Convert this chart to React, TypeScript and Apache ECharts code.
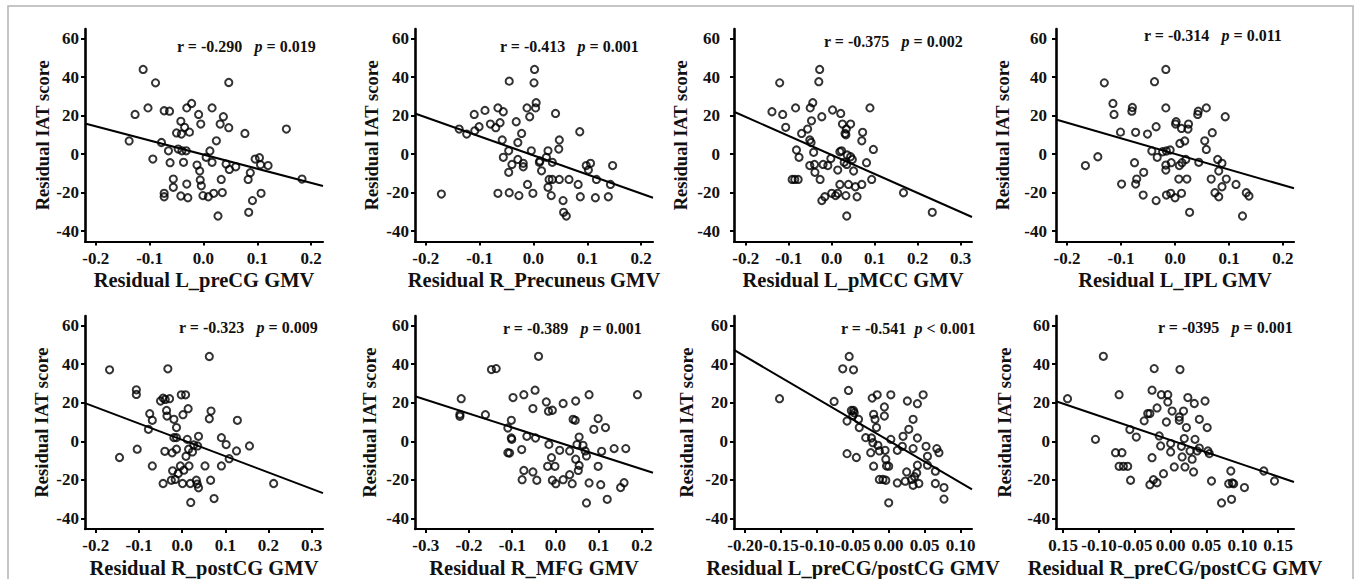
import React, { useEffect, useRef } from "react";
import * as echarts from "echarts";

// ---------- data ----------
const xTitles = [
  "Residual L_preCG GMV",
  "Residual R_Precuneus GMV",
  "Residual L_pMCC GMV",
  "Residual L_IPL GMV",
  "Residual R_postCG GMV",
  "Residual R_MFG GMV",
  "Residual L_preCG/postCG GMV",
  "Residual R_preCG/postCG GMV",
];
const yTitle = "Residual IAT score";

const statR = ["-0.290", "-0.413", "-0.375", "-0.314", "-0.323", "-0.389", "-0.541", "-0395"];
const statP = ["= 0.019", "= 0.001", "= 0.002", "= 0.011", "= 0.009", "= 0.001", "< 0.001", "= 0.001"];
const statGap = ["   ", "   ", "   ", "   ", "   ", "   ", "  ", "   "];

const yTicks = [-40, -20, 0, 20, 40, 60];

const ticksA = [-0.2, -0.1, 0, 0.1, 0.2];
const labelsA = ["-0.2", "-0.1", "0.0", "0.1", "0.2"];
const ticksB = [-0.2, -0.1, 0, 0.1, 0.2, 0.3];
const labelsB = ["-0.2", "-0.1", "0.0", "0.1", "0.2", "0.3"];
const ticksC = [-0.3, -0.2, -0.1, 0, 0.1, 0.2];
const labelsC = ["-0.3", "-0.2", "-0.1", "0.0", "0.1", "0.2"];
const ticksD = [-0.2, -0.15, -0.1, -0.05, 0, 0.05, 0.1];
const labelsD = ["-0.20", "-0.15", "-0.10", "-0.05", "0.00", "0.05", "0.10"];
const ticksE = [-0.15, -0.1, -0.05, 0, 0.05, 0.1, 0.15];
const labelsE = ["0.15", "-0.10", "-0.05", "0.00", "0.05", "0.10", "0.15"];

const xRanges = [
  [-0.22, 0.222],
  [-0.22, 0.222],
  [-0.2273, 0.3264],
  [-0.2205, 0.2204],
  [-0.2249, 0.3263],
  [-0.325, 0.226],
  [-0.2154, 0.116],
  [-0.1601, 0.1722],
];

const pts1 = [
  [-0.112, 44], [-0.089, 37], [-0.103, 24], [-0.127, 20.6], [-0.138, 6.8], [-0.094, -2.6], [-0.078, 6],
  [-0.073, 22.5], [-0.063, 22.3], [-0.065, 1.7], [-0.062, -4.5], [-0.056, -13], [-0.056, -17.3],
  [-0.073, -20.4], [-0.073, -22.2], [-0.05, 11], [-0.042, 17], [-0.041, 10.4], [-0.035, 13.9],
  [-0.031, 24], [-0.022, 26.3], [-0.026, 11.4], [-0.047, 2.6], [-0.04, 1.7], [-0.032, 1.7],
  [-0.037, -4.3], [-0.031, -15.6], [-0.042, -21.8], [-0.029, -22.7], [-0.009, 20.6], [-0.005, 15.6],
  [-0.012, -5.7], [-0.007, -8.8], [-0.006, -13.5], [-0.004, -16.5], [-0.001, -21.6], [0.009, -22.2],
  [0.005, -1.7], [0.012, 1.6], [0.016, -4.3], [0.016, 24], [0.037, 19.4], [0.031, 15.6], [0.024, 6.9],
  [0.042, -5.2], [0.048, -8], [0.06, -6.6], [0.033, -13.2], [0.035, -20], [0.019, -20.4], [0.027, -32.2],
  [0.047, 37.2], [0.047, 13.7], [0.077, 10.7], [0.087, -9.7], [0.083, -13.2], [0.091, -24.2],
  [0.084, -30.3], [0.096, -2.6], [0.104, -1.9], [0.106, -5.5], [0.107, -20.4], [0.12, -6], [0.154, 13],
  [0.183, -13],
];
const pts2 = [
  [-0.171, -20.8], [-0.138, 13], [-0.124, 10.4], [-0.11, 20.6], [-0.109, 12.1], [-0.101, 14.2],
  [-0.09, 22.7], [-0.08, 15.6], [-0.07, 13.7], [-0.066, 24], [-0.062, 16.3], [-0.056, 22], [-0.058, 7.3],
  [-0.056, -1.7], [-0.046, 1.7], [-0.045, 37.9], [-0.04, -5.4], [-0.046, -9.5], [-0.066, -20.4],
  [-0.045, -20.1], [-0.027, -21.6], [-0.032, 16.8], [-0.022, 10.7], [-0.029, 6], [-0.029, -2.8],
  [-0.019, -4.8], [-0.019, -6.6], [-0.012, 24], [-0.007, 19.4], [-0.011, -15.8], [-0.001, -20.4],
  [-0.004, 1.7], [0.002, 44], [0.001, 37], [0.005, 26.7], [0.004, 24], [0.011, -4.3], [0.015, -8.7],
  [0.012, -3.6], [0.027, 1.7], [0.029, -13.2], [0.027, -17.3], [0.033, -21.6], [0.035, -4.3],
  [0.035, -13.2], [0.041, 21.1], [0.048, 7.3], [0.047, 2.6], [0.048, -13.2], [0.066, -13.2],
  [0.055, -24.2], [0.056, -30.3], [0.061, -32.2], [0.083, -15.8], [0.087, -22.2], [0.086, 11.6],
  [0.098, -6], [0.102, -8.3], [0.106, -4.8], [0.117, -13.2], [0.115, -22.7], [0.139, -22.2],
  [0.143, -15.8], [0.147, -6], [0.024, -1.7],
];
const pts3 = [
  [-0.139, 22], [-0.121, 37], [-0.114, 20.6], [-0.107, 13.9], [-0.084, 24], [-0.07, 10.7], [-0.056, 13],
  [-0.082, 2.1], [-0.076, -1.7], [-0.092, -13.2], [-0.086, -13.2], [-0.078, -13.2], [-0.05, 24],
  [-0.044, 26.7], [-0.047, 17.3], [-0.051, 7.3], [-0.048, 6], [-0.042, 0.9], [-0.051, -6], [-0.04, -5.4],
  [-0.039, -9.5], [-0.027, -13.2], [-0.028, 44], [-0.03, 37.6], [-0.023, 19.4], [-0.02, -5.4],
  [-0.009, -6], [-0.002, -2.3], [-0.023, -24.2], [-0.016, -22.2], [0, -20.4], [0.009, -21.6],
  [0.014, -20.4], [0.002, 22.9], [0.021, 21.1], [0.025, 15.6], [0.031, 10.7], [0.034, 13], [0.033, 10],
  [0.044, 15.6], [0.023, 1.7], [0.019, 1.2], [0.014, -8.3], [0.019, -15.8], [0.029, -4.3], [0.035, -5.4],
  [0.036, -0.5], [0.044, -1.4], [0.048, -2.8], [0.051, -8.8], [0.039, -15.8], [0.055, -17], [0.033, -21.6],
  [0.059, -22.2], [0.035, -32.2], [0.07, -15.8], [0.072, 11.3], [0.07, 6.9], [0.081, -4.5], [0.089, 24],
  [0.097, 2.4], [0.093, -13.2], [0.167, -20.1], [0.234, -30.3],
];
const pts4 = [
  [-0.166, -6], [-0.143, -1.4], [-0.131, 37], [-0.115, 26.3], [-0.113, 20.6], [-0.101, 11.4],
  [-0.099, -15.6], [-0.079, 24.2], [-0.08, 22.3], [-0.073, 11.3], [-0.075, -4.5], [-0.071, -13],
  [-0.073, -15.6], [-0.058, -9.5], [-0.059, -21.3], [-0.051, 10.4], [-0.038, 37.6], [-0.035, 14.2],
  [-0.043, 1.6], [-0.033, -1.7], [-0.035, -24.2], [-0.017, 44], [-0.017, 24], [-0.023, 1.2], [-0.016, 1.6],
  [-0.009, 2.1], [-0.017, -5.7], [-0.017, -8.3], [-0.007, -4.5], [-0.016, -21.3], [-0.008, -20.4],
  [0, -22.7], [0.002, 16.8], [0.001, 15.6], [0.012, 13.3], [0.009, 5.5], [0.018, 6.8], [0.025, 15.6],
  [0.024, 13], [0.008, -6], [0.013, -4.5], [0.007, -13], [0.02, -2.8], [0.022, -13], [0.012, -20.4],
  [0.027, -30.3], [0.043, 22.3], [0.042, 20.6], [0.058, 24], [0.044, -4.3], [0.055, 6.9], [0.058, 2.4],
  [0.069, 11.1], [0.067, -13], [0.074, -20.1], [0.081, -22.2], [0.079, -2.8], [0.081, -8.8], [0.087, -4.8],
  [0.087, -17], [0.095, -13], [0.093, 19.4], [0.113, -15.8], [0.125, -32.2], [0.132, -20.1], [0.137, -21.8],
];
const pts5 = [
  [-0.168, 37.1], [-0.145, -8.4], [-0.106, 26.7], [-0.106, 24.3], [-0.104, -4.1], [-0.075, 14.3],
  [-0.069, 10.9], [-0.078, 6.2], [-0.069, -12.8], [-0.05, 20.9], [-0.044, 22.4], [-0.039, 21.7],
  [-0.029, 22.1], [-0.036, 16], [-0.035, 13.1], [-0.033, 37.6], [-0.04, -5.2], [-0.044, -21.9],
  [-0.019, 11.4], [-0.013, 7.1], [-0.019, 1.9], [-0.013, 1.9], [-0.023, -6], [-0.013, -4.1],
  [-0.022, -15.3], [-0.025, -20.2], [-0.016, -19.8], [-0.009, -16.7], [-0.004, -12.8], [0.004, -15],
  [0.001, -21.9], [-0.002, 24.1], [0.008, 24.1], [0.002, 13.8], [0.014, 16.9], [0.012, 1], [0.009, -7.8],
  [0.015, -4.1], [0.016, -12.8], [0.024, -5.5], [0.019, -21.9], [0.02, -31.7], [0.033, -20.2],
  [0.035, -22.2], [0.038, -24.1], [0.038, 2.6], [0.036, -2.4], [0.053, -12.8], [0.063, 44], [0.067, 15.7],
  [0.063, 11.7], [0.066, -20.2], [0.074, -29.7], [0.091, 1.9], [0.102, -1.7], [0.091, -12.8], [0.109, -9],
  [0.128, 10.9], [0.126, -5], [0.156, -2.4], [0.212, -21.9], [0.027, -1.9],
];
const pts6 = [
  [-0.218, 22.1], [-0.221, 14], [-0.221, 13], [-0.162, 13.8], [-0.148, 37.2], [-0.137, 37.7],
  [-0.102, 10.9], [-0.11, 6.9], [-0.102, 1.7], [-0.101, 1], [-0.11, -5.9], [-0.106, -6.1], [-0.098, 22.7],
  [-0.078, -4.3], [-0.077, -19.9], [-0.073, -15.1], [-0.073, 24.2], [-0.066, 2.6], [-0.052, 17],
  [-0.052, -15.9], [-0.047, 26.5], [-0.046, 1.7], [-0.043, -20.2], [-0.039, 44.1], [-0.021, 20.4],
  [-0.016, 15.6], [-0.007, 16.1], [-0.015, -1.6], [-0.018, -13], [-0.009, -8.5], [-0.001, -13],
  [-0.007, -20.2], [0.001, -22], [0.01, -4.7], [0.018, 19.6], [0.018, -19.9], [0.033, -17.3], [0.033, -5],
  [0.039, -22], [0.041, 11.4], [0.046, 10.9], [0.047, 20.9], [0.047, -9.3], [0.055, 2.2], [0.05, -1.7],
  [0.055, -12.5], [0.053, -15.1], [0.064, -2.1], [0.069, -5], [0.072, -7.6], [0.072, -32], [0.078, 24.2],
  [0.078, -21.6], [0.089, 6.2], [0.099, 11.8], [0.099, -13], [0.107, -5.2], [0.105, -22.5], [0.116, 7.1],
  [0.12, -30.1], [0.136, -3.8], [0.151, -24], [0.159, -21.5], [0.163, -3.8], [0.19, 24.2],
];
const pts7 = [
  [-0.152, 22.1], [-0.076, 20.7], [-0.064, 37.6], [-0.055, 44], [-0.049, 37.1], [-0.056, 26.4],
  [-0.058, 10.5], [-0.052, 16], [-0.049, 16], [-0.048, 14.8], [-0.05, 13.4], [-0.042, 11.4], [-0.041, 7.1],
  [-0.058, -6.4], [-0.045, -8.4], [-0.032, 1.9], [-0.024, 1.7], [-0.023, 22.4], [-0.016, 24.1],
  [-0.021, 14], [-0.019, 11.4], [-0.017, 7.1], [-0.022, -0.7], [-0.025, -5.9], [-0.015, -2.1],
  [-0.013, -5], [-0.021, -12.9], [-0.013, -19.8], [-0.008, -19.8], [-0.004, -20.2], [-0.006, 17.8],
  [-0.006, 13.1], [-0.005, -4.7], [-0.004, -9.3], [-0.003, -12.8], [0, -12.9], [0.003, 24.1], [0.003, 1],
  [0, -31.9], [0.012, -21.6], [0.012, -4.7], [0.02, 2.6], [0.019, -2.6], [0.023, -20.7], [0.025, -15.9],
  [0.026, 20.9], [0.028, 6.2], [0.032, -19.8], [0.034, -22.8], [0.034, -3.8], [0.034, 11.4], [0.039, -16.4],
  [0.036, -18.4], [0.04, 19.5], [0.04, 1.7], [0.042, -21.9], [0.04, -12.4], [0.048, 24.1], [0.052, -2.6],
  [0.054, -7.8], [0.054, -12.4], [0.065, -15.5], [0.065, -21.9], [0.067, -3.8], [0.07, -5.9],
  [0.077, -24], [0.077, -30],
];
const pts8 = [
  [-0.144, 22.1], [-0.105, 1], [-0.094, 44.1], [-0.072, 24.2], [-0.077, -5.9], [-0.068, -5.9],
  [-0.072, -13], [-0.066, -13], [-0.06, -13], [-0.057, 6.1], [-0.056, -20.2], [-0.048, 2.2],
  [-0.037, 10.6], [-0.032, 14.4], [-0.029, 14.4], [-0.026, 26.5], [-0.023, 37.7], [-0.026, -8.5],
  [-0.029, -22.5], [-0.024, -19.9], [-0.019, -21.5], [-0.019, 17.3], [-0.016, 2.8], [-0.014, -2.4],
  [-0.013, 24.2], [-0.01, -16.8], [-0.006, 10], [-0.004, 24.2], [-0.004, 20.4], [0, -1.2], [0, -5.5],
  [0.002, 15.7], [0.005, -13.3], [0.012, 12.6], [0.012, 10.9], [0.013, 37.2], [0.015, -2.6], [0.016, -8.1],
  [0.018, 15.7], [0.019, 1.4], [0.022, 7.1], [0.02, -13.3], [0.024, 22.7], [0.027, -5], [0.03, -9.3],
  [0.032, -15.9], [0.033, 19.6], [0.034, 1], [0.037, -5], [0.04, -3.5], [0.04, 11.4], [0.048, 20.9],
  [0.051, 7.1], [0.052, -5], [0.054, -6.4], [0.057, -20.6], [0.071, -32], [0.084, -15.4], [0.081, -22],
  [0.086, -21.6], [0.088, -22], [0.085, -30.1], [0.103, -24], [0.13, -15.4], [0.145, -20.6],
];

const fitLines = [
  [[-0.22, 15.9], [0.222, -16.6]],
  [[-0.22, 21.1], [0.222, -22.7]],
  [[-0.2273, 22], [0.3264, -32.7]],
  [[-0.2205, 18], [0.2204, -17.8]],
  [[-0.2249, 19.8], [0.3263, -26.9]],
  [[-0.325, 23.4], [0.226, -16.3]],
  [[-0.2154, 47.4], [0.116, -25]],
  [[-0.1601, 20.8], [0.1722, -21.1]],
];

const allPoints = [pts1, pts2, pts3, pts4, pts5, pts6, pts7, pts8];
const allTicks = [ticksA, ticksA, ticksB, ticksA, ticksB, ticksC, ticksD, ticksE];
const allLabels = [labelsA, labelsA, labelsB, labelsA, labelsB, labelsC, labelsD, labelsE];

// ---------- layout ----------
const FONT = '"Liberation Serif", "Times New Roman", Times, serif';
const lefts = [85, 415, 734, 1056, 85, 415, 734, 1056];
const tops = [29, 29, 29, 29, 316, 316, 316, 316];
const heights = [212.6, 212.6, 212.6, 212.6, 213, 213, 213, 213];
const GRID_W = 238;
const yNameGaps = [33, 34, 44, 44, 34, 36, 38, 42];
const yLabelMargins = [6, 6, 14, 9, 6, 6, 6, 6];
const statLeft = [177, 500, 824, 1144, 179, 503, 841, 1158];
const statMid = [46.7, 46.7, 41.7, 35, 327.7, 328.3, 328.3, 327.3];

function buildOption() {
  const grid: any[] = [];
  const xAxis: any[] = [];
  const yAxis: any[] = [];
  const series: any[] = [];
  const title: any[] = [];
  for (let i = 0; i < 8; i++) {
    grid.push({
      left: lefts[i],
      top: tops[i],
      width: GRID_W,
      height: heights[i],
      containLabel: false,
      outerBoundsMode: "none",
    });
    const ticks = allTicks[i];
    const labels = allLabels[i];
    xAxis.push({
      type: "value",
      gridIndex: i,
      min: xRanges[i][0],
      max: xRanges[i][1],
      name: xTitles[i],
      nameLocation: "middle",
      nameGap: 28,
      nameTextStyle: { fontFamily: FONT, fontWeight: "bold", fontSize: 20.5, color: "#111" },
      axisLine: { show: true, onZero: false, lineStyle: { color: "#000", width: 2.2 } },
      axisTick: { show: true, length: 4, customValues: ticks, lineStyle: { color: "#000", width: 2 } },
      axisLabel: {
        show: true,
        customValues: ticks,
        margin: 8,
        fontFamily: FONT,
        fontWeight: "bold",
        fontSize: 17,
        color: "#111",
        formatter: (v: number) => {
          const k = ticks.findIndex((t) => Math.abs(t - v) < 1e-6);
          return k >= 0 ? labels[k] : "";
        },
      },
      splitLine: { show: false },
    });
    yAxis.push({
      type: "value",
      gridIndex: i,
      min: -45.5,
      max: 65,
      name: yTitle,
      nameLocation: "middle",
      nameGap: yNameGaps[i],
      nameRotate: 90,
      nameTextStyle: { fontFamily: FONT, fontWeight: "bold", fontSize: 18.5, color: "#111" },
      axisLine: { show: true, onZero: false, lineStyle: { color: "#000", width: 2.6 } },
      axisTick: { show: true, length: 4, customValues: yTicks, lineStyle: { color: "#000", width: 2 } },
      axisLabel: {
        show: true,
        customValues: yTicks,
        margin: yLabelMargins[i],
        fontFamily: FONT,
        fontWeight: "bold",
        fontSize: 17,
        color: "#111",
        formatter: (v: number) => String(Math.round(v)),
      },
      splitLine: { show: false },
    });
    series.push({
      type: "scatter",
      xAxisIndex: i,
      yAxisIndex: i,
      data: allPoints[i],
      symbol: "circle",
      symbolSize: 7.2,
      itemStyle: { color: "rgba(0,0,0,0)", borderColor: "#000", borderWidth: 2 },
      silent: true,
    });
    series.push({
      type: "line",
      xAxisIndex: i,
      yAxisIndex: i,
      data: fitLines[i],
      symbol: "none",
      clip: true,
      lineStyle: { color: "#000", width: 2 },
      silent: true,
    });
    title.push({
      text: `{n|r = ${statR[i]}}{n|${statGap[i]}}{p|p}{n| ${statP[i]}}`,
      left: statLeft[i],
      top: statMid[i] - 9,
      padding: 0,
      textStyle: {
        fontFamily: FONT,
        fontWeight: "bold",
        fontSize: 16,
        color: "#111",
        rich: {
          n: { fontFamily: FONT, fontWeight: "bold", fontSize: 16, color: "#111", lineHeight: 18 },
          p: { fontFamily: FONT, fontWeight: "bold", fontStyle: "italic", fontSize: 16, color: "#111", lineHeight: 18 },
        },
      },
    });
  }
  return {
    animation: false,
    backgroundColor: "#ffffff",
    title,
    grid,
    xAxis,
    yAxis,
    series,
    graphic: [
      {
        type: "rect",
        silent: true,
        shape: { x: 8, y: 6, width: 1345, height: 640 },
        style: { fill: "none", stroke: "#b3b3b3", lineWidth: 1.5 },
      },
    ],
  };
}

export default function App() {
  const ref = useRef<HTMLDivElement>(null);
  useEffect(() => {
    if (!ref.current) return;
    const chart = echarts.init(ref.current, null, { renderer: "svg" });
    chart.setOption(buildOption() as any);
    return () => chart.dispose();
  }, []);
  return (
    <div
      ref={ref}
      style={{ position: "absolute", left: 0, top: 0, width: 1356, height: 579, background: "#fff" }}
    />
  );
}
